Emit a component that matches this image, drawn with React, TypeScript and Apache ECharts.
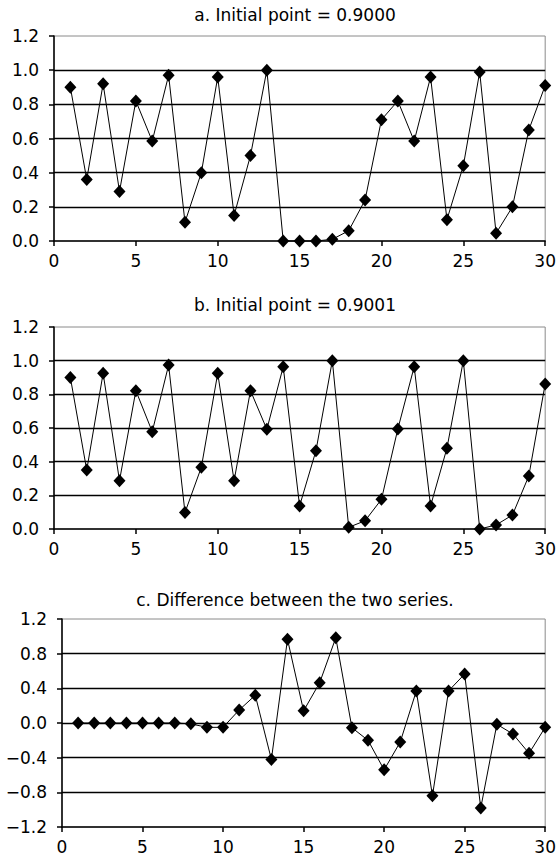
import React, { useEffect, useRef } from "react";
import * as echarts from "echarts";

const steps = [1, 2, 3, 4, 5, 6, 7, 8, 9, 10, 11, 12, 13, 14, 15, 16, 17, 18, 19, 20, 21, 22, 23, 24, 25, 26, 27, 28, 29, 30];

const seriesA = [0.9, 0.36, 0.92, 0.29, 0.82, 0.585, 0.97, 0.11, 0.40, 0.96, 0.15, 0.50, 1.0, 0.0, 0.0, 0.0, 0.01, 0.06, 0.24, 0.71, 0.82, 0.585, 0.96, 0.125, 0.44, 0.99, 0.045, 0.20, 0.65, 0.91];
const seriesB = [0.9, 0.35, 0.925, 0.287, 0.822, 0.578, 0.974, 0.098, 0.367, 0.925, 0.287, 0.822, 0.592, 0.964, 0.137, 0.465, 1.0, 0.01, 0.049, 0.176, 0.594, 0.964, 0.137, 0.48, 1.0, 0.0, 0.024, 0.083, 0.315, 0.862];
const seriesC = [0.0, 0.0, 0.0, 0.0, 0.0, 0.0, 0.0, -0.01, -0.05, -0.05, 0.15, 0.32, -0.42, 0.966, 0.14, 0.465, 0.984, -0.054, -0.2, -0.54, -0.22, 0.37, -0.84, 0.37, 0.565, -0.98, -0.015, -0.127, -0.35, -0.05];

const titles = ["a. Initial point = 0.9000", "b. Initial point = 0.9001", "c. Difference between the two series."];

const FONT = "DejaVu Sans";

export default function App() {
  const ref = useRef<HTMLDivElement>(null);
  useEffect(() => {
    document.body.style.margin = "0";
    const chart = echarts.init(ref.current!, null, { renderer: "svg" });
    const grids = [
      { left: 54, top: 36, width: 494, height: 205 },
      { left: 54, top: 327, width: 494, height: 202 },
      { left: 62, top: 619, width: 486, height: 208 },
    ];
    const yRanges = [
      { min: 0, max: 1.2, interval: 0.2 },
      { min: 0, max: 1.2, interval: 0.2 },
      { min: -1.2, max: 1.2, interval: 0.4 },
    ];
    const titleY = [15, 305, 600];
    const allData = [seriesA, seriesB, seriesC];
    const fmt = (v: number) => {
      const s = v.toFixed(1);
      return s === "-0.0" ? "0.0" : s.replace("-", "\u2212");
    };
    const option: any = {
      animation: false,
      backgroundColor: "#fff",
      grid: grids.map((g) => ({ ...g, show: true, borderColor: "#8a8a8a", borderWidth: 1, backgroundColor: "transparent" })),
      xAxis: grids.map((_, i) => ({
        type: "value",
        gridIndex: i,
        min: 0,
        max: 30,
        interval: 5,
        axisLine: { show: true, onZero: false, lineStyle: { color: "#000", width: 1.5 } },
        axisTick: { show: true, inside: false, length: 5, lineStyle: { color: "#000", width: 1.5 } },
        axisLabel: { color: "#000", fontFamily: FONT, fontSize: 17, margin: 11 },
        splitLine: { show: false },
      })),
      yAxis: grids.map((_, i) => ({
        type: "value",
        gridIndex: i,
        ...yRanges[i],
        axisLine: { show: true, onZero: false, lineStyle: { color: "#000", width: 1.5 } },
        axisTick: { show: true, inside: false, length: 5, lineStyle: { color: "#000", width: 1.5 } },
        axisLabel: { color: "#000", fontFamily: FONT, fontSize: 17, margin: 15, formatter: fmt },
        splitLine: { show: true, showMaxLine: false, showMinLine: false, lineStyle: { color: "#000", width: 1.3 } },
      })),
      series: allData.map((d, i) => ({
        type: "line",
        xAxisIndex: i,
        yAxisIndex: i,
        data: steps.map((s, k) => [s, d[k]]),
        symbol: "diamond",
        symbolSize: [12, 13],
        showAllSymbol: true,
        lineStyle: { color: "#000", width: 1 },
        itemStyle: { color: "#000" },
        clip: false,
      })),
      graphic: titles.map((t, i) => ({
        type: "text",
        x: 295,
        y: titleY[i],
        style: {
          text: t,
          font: `17px "${FONT}"`,
          fill: "#000",
          align: "center",
          verticalAlign: "middle",
        },
      })),
    };
    chart.setOption(option);
    return () => chart.dispose();
  }, []);
  return <div ref={ref} style={{ width: 559, height: 864 }} />;
}
